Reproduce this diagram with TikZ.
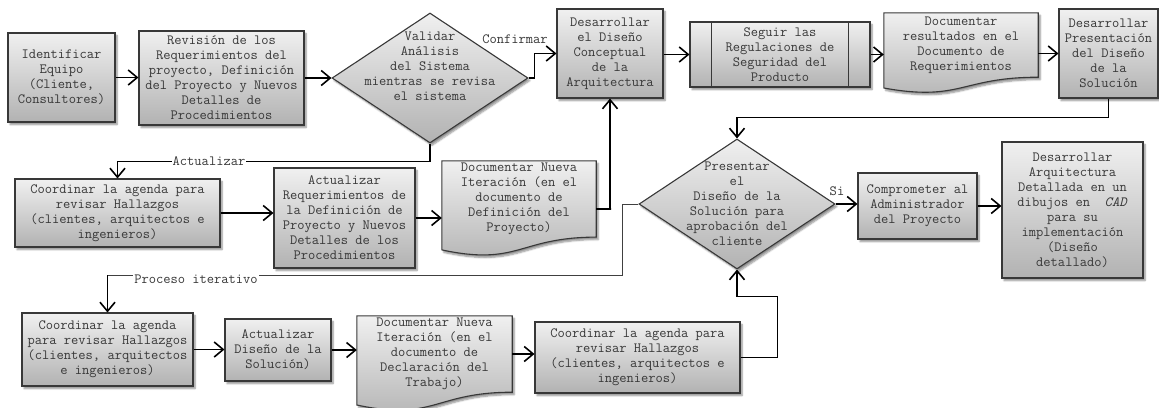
\documentclass[tikz,border=0pt]{standalone}
\usepackage{fontspec}
\usetikzlibrary{
  positioning, arrows.meta, shapes.geometric, calc,
  backgrounds, shadows.blur
}
\definecolor{boxtop}{HTML}{F0F0F0}
\definecolor{boxbot}{HTML}{B2B2B2}
\definecolor{inkgray}{HTML}{383838}

% document outline: straight top, wavy bottom below the node
\newcommand{\docpath}[1]{%
  (#1.north west) -- (#1.north east) -- (#1.south east)
  .. controls (#1.south) and ($(#1.north)!1.384!(#1.south)$)
  .. ($(#1.north west)!1.1675!(#1.south west)$) -- cycle}

\begin{document}
\begin{tikzpicture}[
      x=1pt, y=-1pt,
      every node/.style={font=\ttfamily\fontsize{14.1}{15}\selectfont, text=inkgray},
      shade/.style={draw=inkgray, line width=1.1pt, top color=boxtop,
        bottom color=boxbot,
        blur shadow={shadow xshift=2pt, shadow yshift=-2.5pt,
          shadow blur steps=6, shadow opacity=45}},
      procbox/.style={shade, align=center, inner sep=2pt},
      docbox/.style={align=center, inner sep=2pt},
      decision/.style={shade, diamond, align=center, inner sep=-40pt,
        minimum width=196pt, minimum height=130pt},
      conn/.style={-{Straight Barb[length=9pt, width=15pt]}, line width=1.6pt,
        black},
      thinconn/.style={line width=0.8pt, black!75},
      lbl/.style={fill=white, inner sep=1pt},
    ]
    \useasboundingbox (0,0) rectangle (1159,407);

    % first row
    \node[procbox, minimum width=107pt, minimum height=89pt] (equipo)
      at (61.5,77.5) {Identificar\\Equipo\\(Cliente,\\Consultores)};

    \node[procbox, minimum width=165pt, minimum height=94pt] (revision)
      at (221.5,78) {Revisión de los\\Requerimientos del\\proyecto, Definición\\
       del Proyecto y Nuevos\\Detalles de\\Procedimientos};
    \draw[conn] (equipo.east) -- (equipo.east -| revision.west);

    \node[decision, text depth=23pt] (validar) at (430,78)
      {Validar\\Análisis\\del Sistema\\mientras se revisa\\el sistema};
    \draw[conn] (revision.east) -- (revision.east -| validar.west);

    \node[procbox, minimum width=106pt, minimum height=89pt] (concepto)
      at (610,53.5) {Desarrollar\\el Diseño\\Conceptual\\de la\\Arquitectura};
    \draw[conn] (validar.east) -- ++(6,0) |- (concepto.west);
    \node[lbl] (confirmar) at (515,39) {Confirmar};

    \node[procbox, minimum width=180pt, minimum height=65pt] (regulacion)
      at (780,54.5) {Seguir las\\Regulaciones de\\Seguridad del\\Producto};
    \draw[draw=inkgray, line width=1.1pt]
      ([xshift=22pt]regulacion.north west) -- ([xshift=22pt]regulacion.south west)
      ([xshift=-22pt]regulacion.north east) -- ([xshift=-22pt]regulacion.south east);
    \draw[conn] (regulacion.west -| concepto.east) -- (regulacion.west);

    \node[docbox, minimum width=154pt, minimum height=64pt] (resultados)
      at (961,45) {Documentar\\resultados en el\\Documento de\\Requerimientos};
    \draw[conn] (regulacion.east) -- (regulacion.east -| resultados.west);

    \node[procbox, minimum width=99pt, minimum height=89pt] (presentacion)
      at (1108.5,53.5) {Desarrollar\\Presentación\\del Diseño\\de la\\Solución};
    \draw[conn] (presentacion.west -| resultados.east) -- (presentacion.west);

    % second row
    \node[procbox, minimum width=205pt, minimum height=68pt] (agenda1)
      at (117.5,213) {Coordinar la agenda para\\revisar Hallazgos\\
       (clientes, arquitectos e\\ingenieros)};
    \draw[conn] (validar.south) -- ++(0,18) -| (agenda1.north);
    \node[lbl] (actualizar) at (209,161) {Actualizar};

    \node[procbox, minimum width=141pt, minimum height=100pt] (actreq)
      at (344.5,218) {Actualizar\\Requerimientos de\\la Definición de\\
       Proyecto y Nuevos\\Detalles de los\\Procedimientos};
    \draw[conn] (agenda1.east) -- (agenda1.east -| actreq.west);

    \node[docbox, minimum width=154pt, minimum height=74pt] (iteracion1)
      at (519,199) {Documentar Nueva\\Iteración (en el\\documento de\\
       Definición del\\Proyecto)};
    \draw[conn] (actreq.east) -- (actreq.east -| iteracion1.west);
    \draw[conn] ([yshift=-10pt]iteracion1.east) -- ++(15,0) -| (concepto.south);

    \node[decision] (diseno) at (737,204)
      {Presentar\\el\\Diseño de la\\Solución para\\aprobación del\\cliente};
    \draw[conn] (presentacion.south) -- ++(0,19) -| (diseno.north);

    \node[procbox, minimum width=119pt, minimum height=66pt] (comprometer)
      at (917.5,206) {Comprometer al\\Administrador\\del Proyecto};
    \draw[conn] (diseno.east) -- (diseno.east -| comprometer.west);
    \node[inner sep=1pt] (si) at (837,191) {Si};

    \node[procbox, minimum width=141pt, minimum height=136pt] (detallada)
      at (1072.5,210) {Desarrollar\\Arquitectura\\Detallada en un\\
       dibujos en~ \textit{CAD}\\para su\\implementación\\(Diseño\\detallado)};
    \draw[conn] (comprometer.east) -- (comprometer.east -| detallada.west);

    % third row
    \node[procbox, minimum width=171pt, minimum height=73pt] (agenda2)
      at (107.5,349.5) {Coordinar la agenda\\para revisar Hallazgos\\
       (clientes, arquitectos\\e ingenieros)};
    \coordinate (iterc) at ([yshift=37pt]agenda2.north);
    \draw[thinconn] (diseno.west) -- ++(-16,0) |- (iterc);
    \draw[conn] (iterc) -- (agenda2.north);
    \node[lbl] (iterativo) at (196,279) {Proceso iterativo};

    \node[procbox, minimum width=106pt, minimum height=62pt] (actdis)
      at (278,350) {Actualizar\\Diseño de la\\Solución)};
    \draw[conn] (agenda2.east) -- (agenda2.east -| actdis.west);

    \node[docbox, minimum width=155pt, minimum height=76pt] (iteracion2)
      at (434.5,354) {Documentar Nueva\\Iteración (en el\\documento de\\
       Declaración del\\Trabajo)};
    \draw[conn] (actdis.east) -- (actdis.east -| iteracion2.west);

    \node[procbox, minimum width=205pt, minimum height=71pt] (agenda3)
      at (637.5,357.5) {Coordinar la agenda para\\revisar Hallazgos\\
       (clientes, arquitectos e\\ingenieros)};
    \draw[conn] (iteracion2.east) -- (iteracion2.east -| agenda3.west);
    \draw[conn] (agenda3.east) -- ++(37,0) |- ([yshift=-27pt]diseno.south)
      -- (diseno.south);

    % document outlines behind their text
    \begin{scope}[on background layer]
      \path[shade] \docpath{resultados};
      \path[shade] \docpath{iteracion1};
      \path[shade] \docpath{iteracion2};
    \end{scope}
  \end{tikzpicture}
\end{document}
